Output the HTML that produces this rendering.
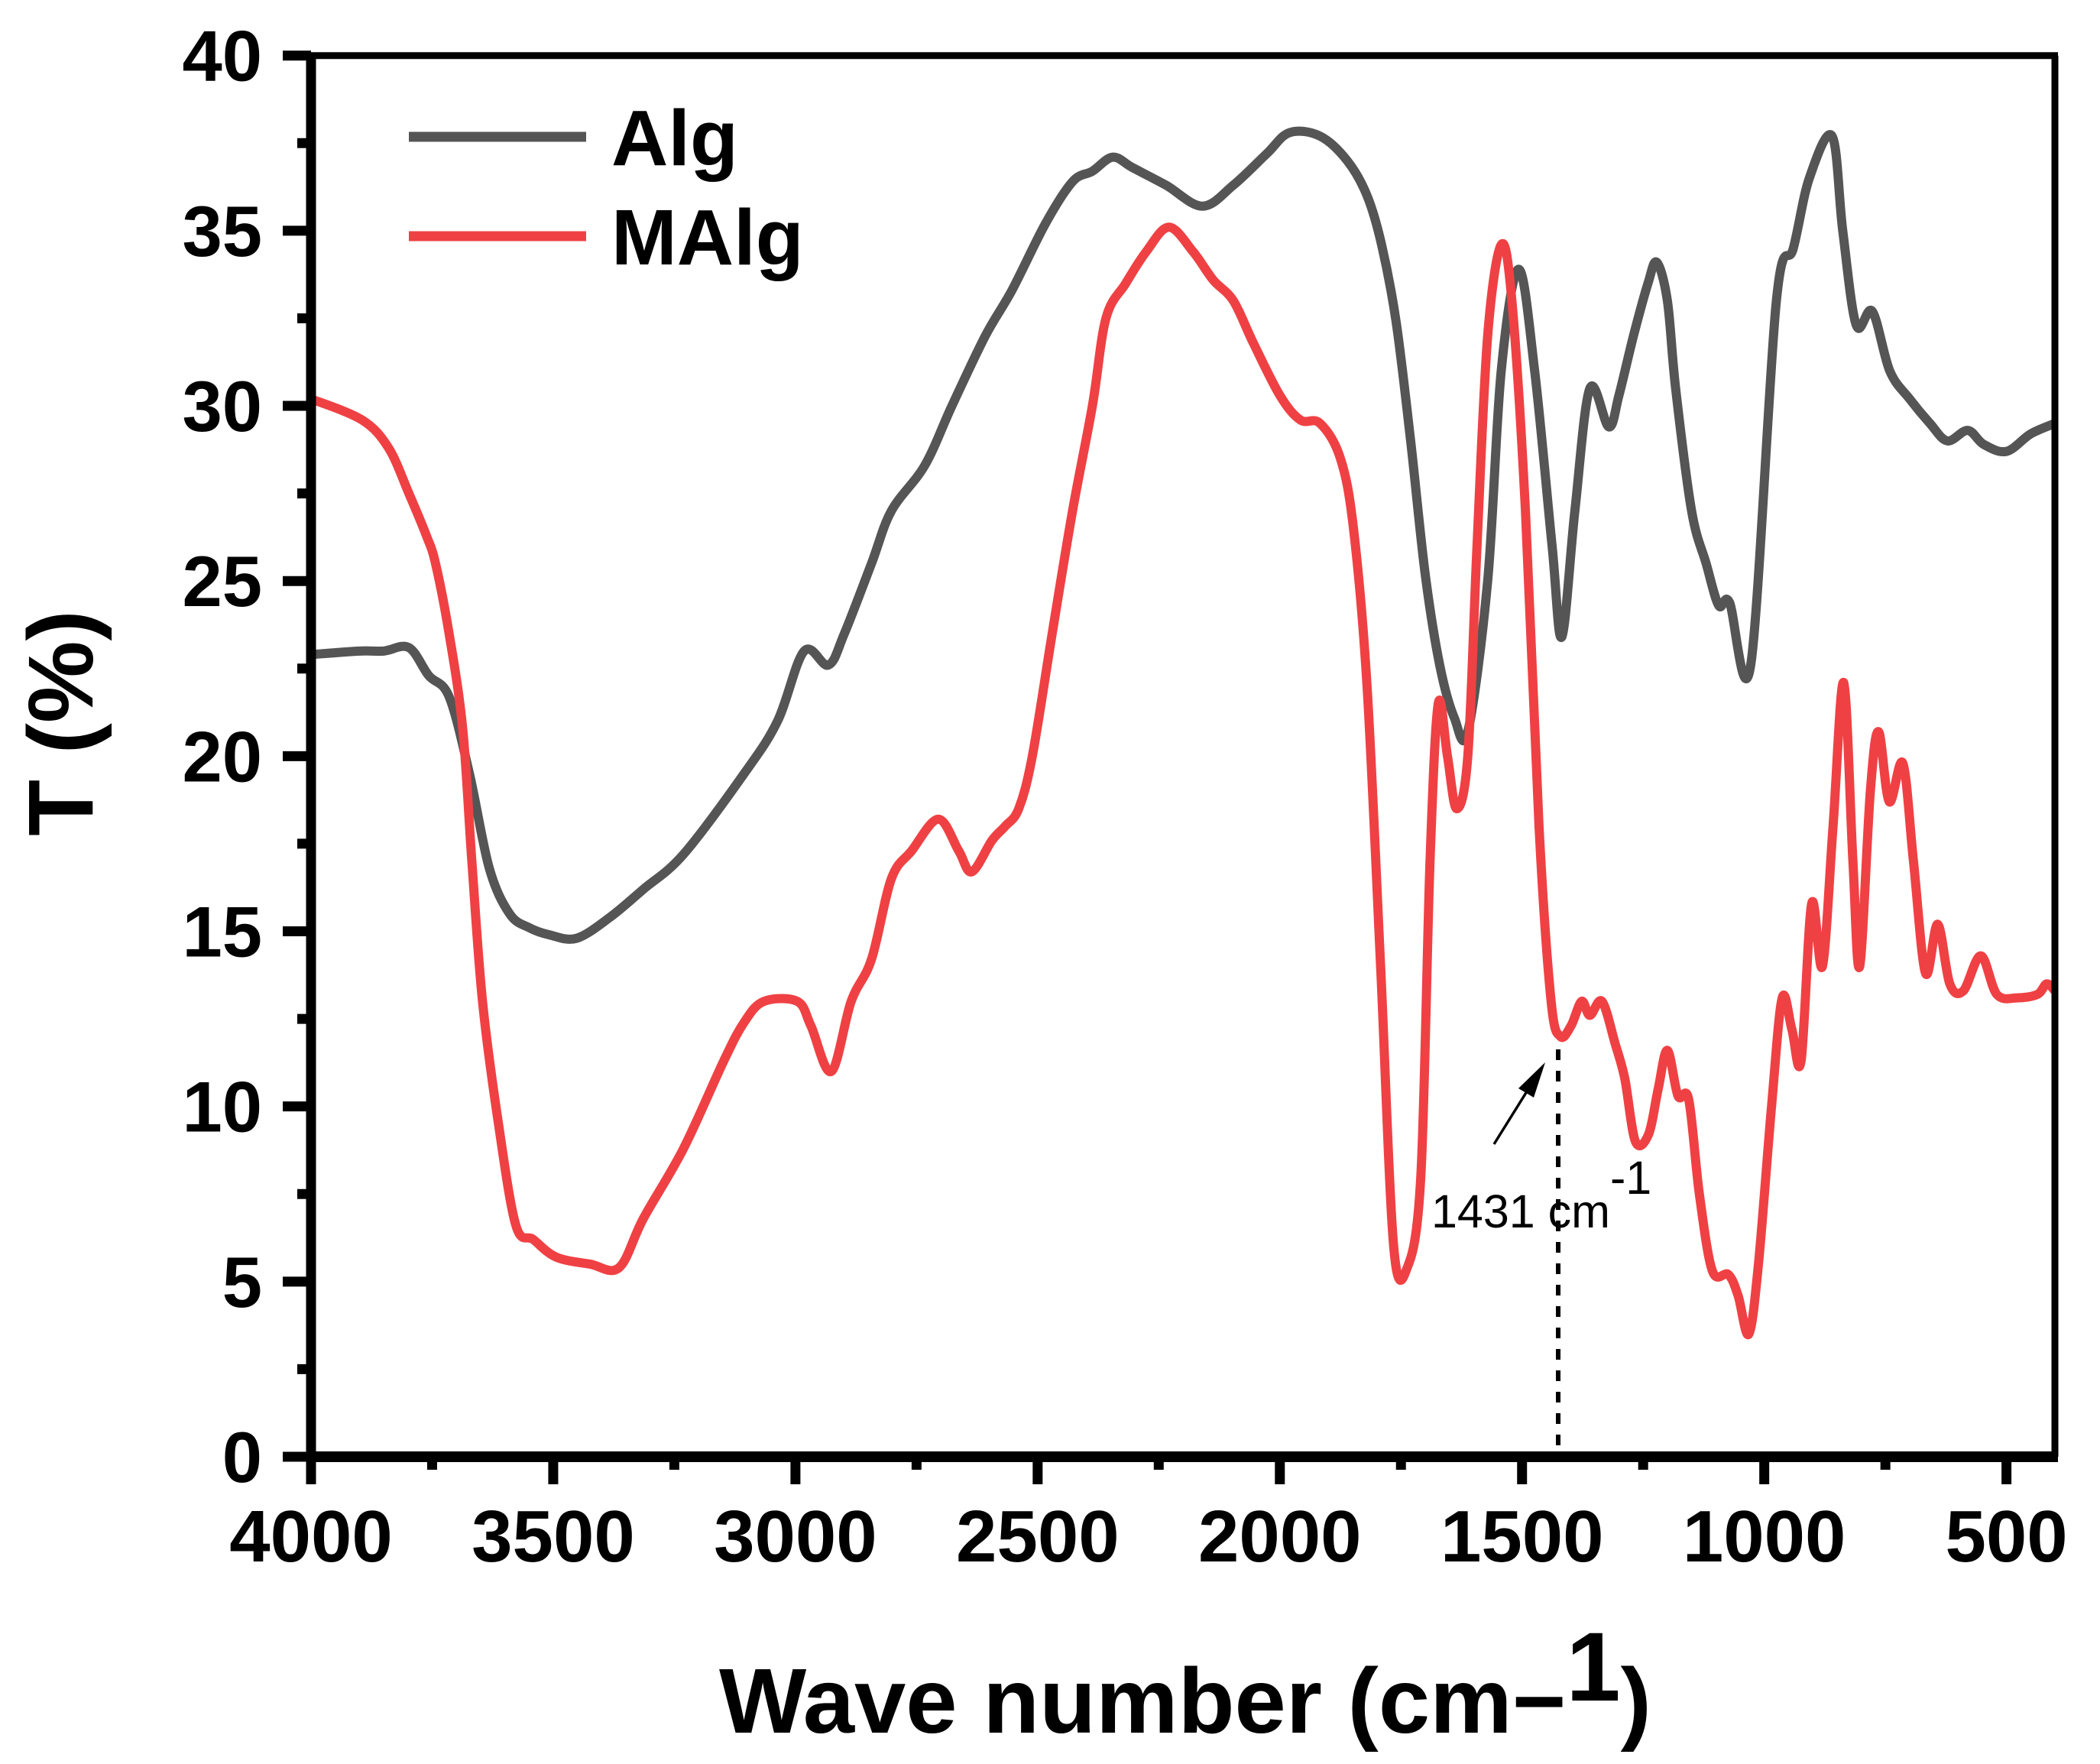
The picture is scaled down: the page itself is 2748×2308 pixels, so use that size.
<!DOCTYPE html>
<html><head><meta charset="utf-8"><style>
html,body{margin:0;padding:0;background:#fff;}
svg{display:block;font-family:"Liberation Sans",Arial,sans-serif;}
</style></head><body>
<svg id="chart" width="2748" height="2308" viewBox="0 0 2748 2308" xmlns="http://www.w3.org/2000/svg">
<rect width="2748" height="2308" fill="#fff"/>
<g id="marks"></g>
<g id="axes"></g>
<g>
  <line x1="535" y1="179" x2="767" y2="179" stroke="#555555" stroke-width="13"/>
  <text x="800" y="216" font-size="103" font-weight="bold">Alg</text>
  <line x1="535" y1="309" x2="767" y2="309" stroke="#ef4144" stroke-width="13"/>
  <text x="800" y="346" font-size="103" font-weight="bold">MAlg</text>
</g>
<text x="941" y="2267" font-size="121" font-weight="bold">Wave number (cm<tspan font-size="121">−</tspan><tspan dy="-42" font-size="128">1</tspan><tspan dy="42">)</tspan></text>
<text transform="translate(121,946) rotate(-90)" text-anchor="middle" font-size="121" font-weight="bold">T (%)</text>
<g>
  <line x1="2039" y1="1373" x2="2039" y2="1906" stroke="#000" stroke-width="6" stroke-dasharray="14,14"/>
  <line x1="1955" y1="1497" x2="2008" y2="1412" stroke="#000" stroke-width="3.5"/>
  <polygon points="2022,1390 1987,1424 2007,1436" fill="#000"/>
  <text x="1873" y="1606" font-size="61">1431 cm<tspan dy="-44">-1</tspan></text>
</g>
</svg>
<script>
const algWn = [4000,3900,3850,3798,3757,3715,3673,3632,3590,3549,3508,3452,3383,3314,3231,3106,3037,2982,2932,2899,2843,2802,2733,2677,2608,2553,2484,2428,2387,2345,2304,2235,2160,2096,2027,1980,1917,1861,1820,1790,1760,1730,1700,1670,1640,1612,1571,1543,1507,1474,1438,1418,1391,1360,1321,1300,1270,1240,1222,1200,1183,1150,1120,1094,1072,1028,975,940,907,860,838,810,777,741,700,658,622,580,547,500,450,400];
const algT  = [22.9,23.0,23.0,23.1,22.3,21.7,19.5,16.8,15.5,15.1,14.9,14.8,15.4,16.2,17.2,19.5,21.0,23.0,22.6,23.5,25.5,27.0,28.3,30.0,32.0,33.3,35.2,36.4,36.7,37.1,36.8,36.3,35.7,36.3,37.2,37.8,37.7,37.0,36.0,34.6,32.4,29.0,25.2,22.6,21.1,20.7,25.0,31.0,33.9,31.0,26.0,23.4,27.0,30.5,29.4,30.3,32.0,33.5,34.1,33.0,30.5,27.0,25.5,24.3,24.4,22.6,33.0,34.5,36.5,37.7,35.0,32.3,32.7,31.0,30.2,29.5,29.0,29.3,28.9,28.7,29.2,29.5];
const malgWn = [4000,3895,3840,3798,3762,3743,3715,3687,3668,3646,3613,3577,3541,3494,3424,3364,3314,3231,3148,3106,3065,2996,2968,2926,2885,2843,2802,2760,2705,2663,2636,2594,2567,2539,2511,2470,2428,2387,2359,2318,2276,2229,2179,2138,2096,2055,2000,1958,1917,1875,1848,1820,1792,1765,1737,1709,1690,1673,1654,1635,1612,1593,1571,1543,1521,1493,1465,1440,1421,1399,1377,1360,1335,1308,1288,1266,1239,1219,1200,1178,1156,1134,1107,1074,1054,1032,1012,985,963,943,924,902,880,858,836,817,803,781,764,742,714,692,667,642,617,589,553,520,478,436,417,400];
const malgT  = [30.2,29.6,28.8,27.5,26.3,25.5,23.5,20.8,17.0,13.0,9.5,6.6,6.2,5.7,5.5,5.4,6.8,8.8,11.3,12.4,13.0,13.0,12.3,11.0,13.0,14.2,16.5,17.3,18.2,17.3,16.7,17.6,18.0,18.5,20.0,23.5,27.0,30.0,32.5,33.5,34.4,35.1,34.4,33.6,33.0,31.8,30.3,29.6,29.5,28.5,26.5,22.0,14.0,6.0,5.4,8.0,17.0,21.5,20.0,18.5,20.0,26.0,32.0,34.6,33.0,27.0,18.0,13.0,12.0,12.3,13.0,12.6,13.0,11.8,10.8,9.0,9.2,10.5,11.6,10.3,10.2,7.5,5.3,5.2,4.6,3.5,5.5,10.0,13.1,12.2,11.3,15.8,14.0,18.0,22.1,17.0,14.0,19.0,20.7,18.7,19.8,17.0,13.8,15.2,13.5,13.3,14.3,13.2,13.1,13.2,13.5,13.3];
const yTicks = [0,5,10,15,20,25,30,35,40];
const yTickLabels = ["0","5","10","15","20","25","30","35","40"];
const xTicks = [4000,3500,3000,2500,2000,1500,1000,500];
const xTickLabels = ["4000","3500","3000","2500","2000","1500","1000","500"];

const X0=407, X1=2689, Y0=1906, Y1=72.7;
const xs = w => X0 + (4000 - w) / 3600 * (X1 - X0);
const ys = t => Y0 - t / 40 * (Y0 - Y1);
const NS = "http://www.w3.org/2000/svg";
function mk(tag, attrs, parent){ const e=document.createElementNS(NS,tag); for(const k in attrs) e.setAttribute(k,attrs[k]); parent.appendChild(e); return e; }

function smoothPath(wn, t){
  const p = wn.map((w,i)=>[xs(w), ys(t[i])]);
  let d = `M${p[0][0]},${p[0][1]}`;
  for(let i=0;i<p.length-1;i++){
    const a=p[Math.max(i-1,0)], b=p[i], c=p[i+1], e=p[Math.min(i+2,p.length-1)];
    const c1=[b[0]+(c[0]-a[0])/6, b[1]+(c[1]-a[1])/6];
    const c2=[c[0]-(e[0]-b[0])/6, c[1]-(e[1]-b[1])/6];
    d += ` C${c1[0]},${c1[1]} ${c2[0]},${c2[1]} ${c[0]},${c[1]}`;
  }
  return d;
}
const marks = document.getElementById('marks');
const pa = mk('path',{d:smoothPath(algWn,algT),fill:'none',stroke:'#555555','stroke-width':12,'stroke-linejoin':'round'},marks);


const pm = mk('path',{d:smoothPath(malgWn,malgT),fill:'none',stroke:'#ef4144','stroke-width':12,'stroke-linejoin':'round'},marks);



const axes = document.getElementById('axes');
const frame = [[X0,Y0,X0,Y1-4,13],[X0-6,Y0,X1+4,Y0,14],[X0,Y1,X1+4,Y1,9],[X1,Y1,X1,Y0,9]];
frame.forEach(f=>{
  const l = mk('line',{x1:f[0],y1:f[1],x2:f[2],y2:f[3],stroke:'#000','stroke-width':f[4]},axes);
  
  
});
yTicks.forEach((v,i)=>{
  const y=ys(v);
  const t = mk('line',{x1:370,y1:y,x2:X0,y2:y,stroke:'#000','stroke-width':13},axes);
  
  
  const lb = mk('text',{x:343,y:y+33,'text-anchor':'end','font-size':94,'font-weight':'bold'},axes);
  lb.textContent = yTickLabels[i];
  
  
  if(v<40){
    const m = mk('line',{x1:389,y1:ys(v+2.5),x2:X0,y2:ys(v+2.5),stroke:'#000','stroke-width':13},axes);
    
    
  }
});
xTicks.forEach((v,i)=>{
  const x=xs(v);
  const t = mk('line',{x1:x,y1:Y0,x2:x,y2:1942,stroke:'#000','stroke-width':13},axes);
  
  
  const lb = mk('text',{x:x,y:2043,'text-anchor':'middle','font-size':96,'font-weight':'bold'},axes);
  lb.textContent = xTickLabels[i];
  
  
  const mv = v-250;
  if(mv>400){
    const m = mk('line',{x1:xs(mv),y1:Y0,x2:xs(mv),y2:1923,stroke:'#000','stroke-width':13},axes);
    
    
  }
});
</script>
</body></html>
